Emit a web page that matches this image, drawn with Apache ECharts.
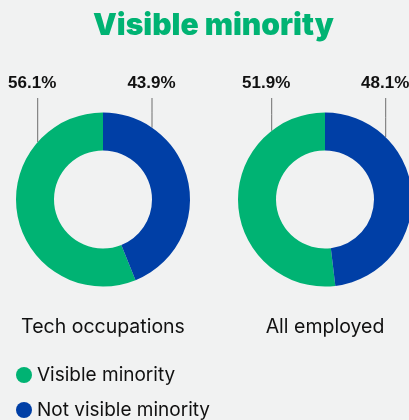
<!DOCTYPE html>
<html>
<head>
<meta charset="utf-8">
<script src="https://cdn.jsdelivr.net/npm/echarts@6/dist/echarts.min.js"></script>
<style>
html,body{margin:0;padding:0;background:#f1f2f2;}
#c{width:409px;height:420px;}
</style>
</head>
<body>
<div id="c"></div>
<script>
const chartTitle = 'Visible minority';
const groups = ['Tech occupations', 'All employed'];
const segmentNames = ['Visible minority', 'Not visible minority'];
const visibleMinority = [56.1, 51.9];
const notVisibleMinority = [43.9, 48.1];

const FONT = '"Liberation Sans", Arial, sans-serif';
const FONT2 = 'Inter, "Liberation Sans", Arial, sans-serif';
const colors = ['#00b373', '#003fa6'];
const centers = [[103, 199.5], [325, 199.5]];
const R_OUT = 87, R_IN = 49;
// horizontal offsets (px) of the leader lines from each pie centre
const lineDx = [[-65.3, 49], [-53.3, 60.7]];
const textShift = [-5.5, -0.5];
const LABEL_Y = 83.5, LINE_TOP = 98;

const chart = echarts.init(document.getElementById('c'), null, {renderer: 'canvas'});

const series = groups.map((g, i) => ({
  type: 'pie',
  name: g,
  center: centers[i],
  radius: [R_IN, R_OUT],
  startAngle: 90,
  clockwise: false,
  avoidLabelOverlap: false,
  silent: true,
  itemStyle: {borderWidth: 0},
  label: {
    show: true,
    position: 'outside',
    formatter: p => p.value.toFixed(1) + '%',
    fontFamily: FONT,
    fontWeight: 'bold',
    fontSize: 17,
    color: '#111'
  },
  labelLine: {show: true, lineStyle: {color: '#6e6e6e', width: 1}},
  labelLayout: function (params) {
    const si = params.seriesIndex, di = params.dataIndex;
    const c = centers[si];
    const dx = lineDx[si][di];
    const lx = c[0] + dx;
    const edgeY = c[1] - Math.sqrt(R_OUT * R_OUT - dx * dx);
    return {
      x: lx + textShift[di],
      y: LABEL_Y,
      align: 'center',
      verticalAlign: 'middle',
      labelLinePoints: [[lx, LINE_TOP], [lx, (LINE_TOP + edgeY) / 2], [lx, edgeY]]
    };
  },
  data: [
    {name: segmentNames[0], value: visibleMinority[i], itemStyle: {color: colors[0]}},
    {name: segmentNames[1], value: notVisibleMinority[i], itemStyle: {color: colors[1]}}
  ]
}));

chart.setOption({
  backgroundColor: '#f1f2f2',
  animation: false,
  title: [
    {
      text: chartTitle,
      left: 93,
      top: 11,
      padding: 0,
      textStyle: {fontFamily: FONT2, fontWeight: 900, fontSize: 30, color: '#00b373'}
    },
    ...groups.map((g, i) => ({
      text: g,
      left: centers[i][0],
      top: 317,
      padding: 0,
      textAlign: 'center',
      textStyle: {fontFamily: FONT2, fontWeight: 'normal', fontSize: 19.5, color: '#111'}
    }))
  ],
  legend: {
    orient: 'vertical',
    left: 16,
    top: 364,
    height: 100,
    padding: 0,
    icon: 'circle',
    itemWidth: 16,
    itemHeight: 16,
    itemGap: 13,
    data: segmentNames,
    textStyle: {fontFamily: FONT2, fontSize: 19, color: '#111', lineHeight: 22},
    selectedMode: false
  },
  series: series
});
</script>
</body>
</html>
